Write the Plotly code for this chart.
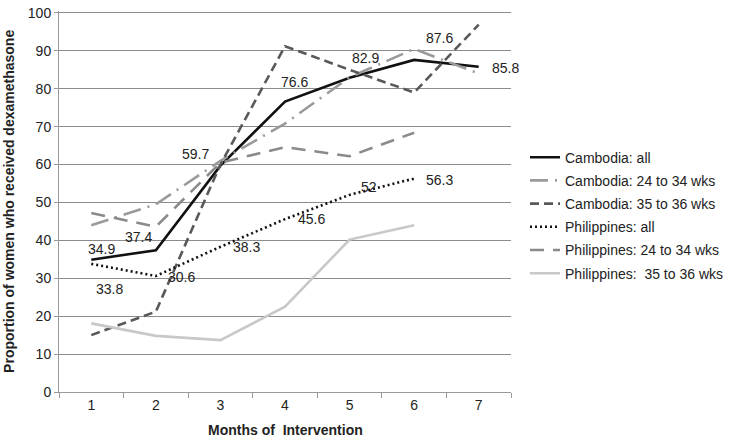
import plotly.graph_objects as go

months = ["1", "2", "3", "4", "5", "6", "7"]

cam_all = [34.9, 37.4, 59.7, 76.6, 82.9, 87.6, 85.8]
cam_24_34 = [44.0, 49.5, 61.0, 70.8, 83.0, 90.5, 84.0]
cam_35_36 = [15.0, 21.2, 60.0, 91.2, 85.0, 79.0, 96.9]
phi_all = [33.8, 30.6, 38.3, 45.6, 52.0, 56.3]
phi_24_34 = [47.2, 43.6, 60.5, 64.6, 62.2, 68.4]
phi_35_36 = [18.1, 14.8, 13.7, 22.5, 40.2, 44.0]

y_ticks = [0, 10, 20, 30, 40, 50, 60, 70, 80, 90, 100]

names = [
    "Cambodia: all",
    "Cambodia: 24 to 34 wks",
    "Cambodia: 35 to 36 wks",
    "Philippines: all",
    "Philippines: 24 to 34 wks",
    "Philippines:  35 to 36 wks",
]

series = [cam_all, cam_24_34, cam_35_36, phi_all, phi_24_34, phi_35_36]
styles = [
    dict(color="#111111", width=2.6, dash="solid"),
    dict(color="#9a9a9a", width=2.6, dash="18px,7px,2px,7px"),
    dict(color="#595959", width=2.6, dash="9px,5px"),
    dict(color="#111111", width=2.6, dash="2px,3px"),
    dict(color="#8a8a8a", width=2.6, dash="14px,9px"),
    dict(color="#c8c8c8", width=2.6, dash="solid"),
]

fig = go.Figure()
for i, (nm, vals, st) in enumerate(zip(names, series, styles)):
    fig.add_trace(go.Scatter(
        x=months[:len(vals)], y=vals, mode="lines", name=nm,
        line=st, legendgroup=str(i), hoverinfo="skip",
    ))

# data labels (offsets in pixels, right/down positive)
cam_off = [(10, -11), (-17, -13), (-25, -12), (9, -20), (16, -20), (25, -22), (27, 1)]
phi_off = [(18, 25), (26, 1), (26, 0), (26, 0), (19, -8), (25, 1)]

annotations = []
for vals, offs in ((cam_all, cam_off), (phi_all, phi_off)):
    for idx, (v, (dx, dy)) in enumerate(zip(vals, offs)):
        annotations.append(dict(
            x=idx, y=v, xref="x", yref="y", text=f"{v:g}", showarrow=False,
            xshift=dx, yshift=-dy, font=dict(size=14, color="#222222"),
        ))

annotations.append(dict(
    text="<b>Proportion of women who received dexamethasone</b>",
    xref="paper", yref="paper", x=-0.112, y=0.5, textangle=-90,
    showarrow=False, xanchor="center", yanchor="middle",
    font=dict(size=14, color="#222222"),
))
annotations.append(dict(
    text="<b>Months of  Intervention</b>",
    xref="paper", yref="paper", x=0.5, y=-0.101,
    showarrow=False, xanchor="center", yanchor="middle",
    font=dict(size=14, color="#222222"),
))

fig.update_layout(
    width=733, height=442,
    margin=dict(l=59, r=216, t=5, b=50),
    plot_bgcolor="white", paper_bgcolor="white",
    font=dict(family="Liberation Sans, Arial, sans-serif", size=14, color="#222222"),
    showlegend=True,
    legend=dict(
        x=1.031, y=0.463, xanchor="left", yanchor="middle",
        font=dict(size=14, color="#222222"), itemwidth=30,
        tracegroupgap=2, traceorder="grouped", bgcolor="rgba(0,0,0,0)",
    ),
    annotations=annotations,
)
fig.update_xaxes(
    type="category", range=[-0.5, 6.5], tickson="boundaries",
    ticks="outside", ticklen=5, tickcolor="#999999",
    showline=True, linecolor="#999999", linewidth=1,
    showgrid=False, zeroline=False, tickfont=dict(size=14),
)
fig.update_yaxes(
    range=[0, 100.5], tickvals=y_ticks, ticklabeloverflow="allow",
    ticks="outside", ticklen=4, tickcolor="#999999",
    showline=True, linecolor="#999999", linewidth=1,
    showgrid=True, gridcolor="#8c8c8c", gridwidth=1, zeroline=False,
    tickfont=dict(size=14),
)

fig.write_html(
    "out.html",
    config={"displayModeBar": False},
    post_script="document.body.style.margin='0';document.body.style.overflow='hidden';",
)
